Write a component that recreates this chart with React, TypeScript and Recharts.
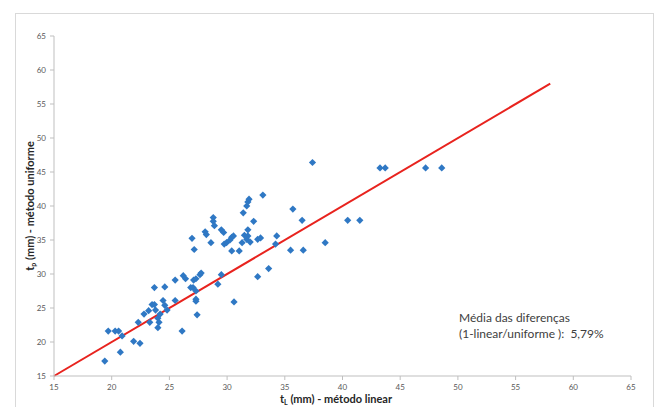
import React from 'react';
import { ScatterChart, Scatter, XAxis, YAxis, ReferenceLine } from 'recharts';

// t_L (método linear) for each measured point
const linearValues = [
  19.4, 19.7, 20.3, 20.6, 20.9, 20.75, 21.9, 22.45, 22.3, 22.8,
  23.3, 23.2, 23.5, 23.7, 23.7, 23.8, 24.0, 24.1, 24.0, 24.2,
  24.45, 24.6, 24.6, 24.8, 25.5, 25.5, 26.1, 26.2, 26.4, 26.85,
  27.05, 27.1, 27.3, 27.65, 27.75, 27.3, 27.3, 27.3, 27.4, 29.5,
  29.2, 30.6, 32.65, 33.6, 26.96, 27.15, 28.6, 28.1, 28.2, 28.8,
  28.8, 28.9, 29.5, 29.7, 29.75, 29.95, 30.25, 30.4, 30.4, 31.05,
  31.3, 31.5, 31.4, 31.7, 31.8, 31.9, 31.7, 31.8, 31.8, 32.0,
  32.3, 32.65, 32.9, 33.1, 34.3, 34.2, 35.5, 35.7, 36.5, 36.6,
  37.4, 38.5, 40.45, 41.5, 43.25, 43.7, 47.2, 48.6, 30.55,
];

// t_p (método uniforme) for the same points
const uniformValues = [
  17.2, 21.6, 21.6, 21.6, 20.9, 18.5, 20.1, 19.8, 22.9, 24.1,
  22.9, 24.6, 25.5, 25.5, 28.0, 24.7, 23.5, 22.9, 22.1, 24.1,
  26.1, 25.4, 28.1, 24.7, 29.1, 26.1, 21.6, 29.75, 29.3, 28.0,
  28.0, 29.1, 29.3, 29.9, 30.15, 27.5, 26.3, 26.0, 24.0, 29.9,
  28.5, 25.9, 29.6, 30.8, 35.25, 33.6, 34.6, 36.2, 35.8, 38.3,
  37.75, 37.1, 36.5, 36.1, 34.4, 34.6, 35.0, 35.4, 33.4, 33.4,
  34.6, 35.7, 39.0, 40.0, 40.6, 41.0, 35.1, 35.6, 36.5, 34.7,
  37.75, 35.1, 35.3, 41.6, 35.6, 34.4, 33.5, 39.55, 37.9, 33.5,
  46.4, 34.6, 37.9, 37.9, 45.6, 45.6, 45.6, 45.6, 35.6,
];

// red line
const lineX = [15, 58];
const lineY = [15, 58];

const axisTicks = [15, 20, 25, 30, 35, 40, 45, 50, 55, 60, 65];

const points = linearValues.map((x, i) => ({ x, y: uniformValues[i] }));

const Diamond = (props: any) => {
  const { cx, cy } = props;
  const r = 3.6;
  return (
    <polygon
      points={`${cx},${cy - r} ${cx + r},${cy} ${cx},${cy + r} ${cx - r},${cy}`}
      fill="#2f78c4"
    />
  );
};

const tickStyle = { fontSize: 8, fill: '#595959', fontFamily: 'Lato, sans-serif' };
const titleStyle: React.CSSProperties = {
  position: 'absolute',
  fontFamily: 'Lato, sans-serif',
  fontWeight: 'bold',
  fontSize: 11,
  lineHeight: '12px',
  color: '#262626',
  whiteSpace: 'nowrap',
};
const subStyle: React.CSSProperties = { fontSize: 7, position: 'relative', top: 2 };

export default function App() {
  return (
    <div style={{ position: 'absolute', left: 0, top: 0, width: 655, height: 407, overflow: 'hidden', background: '#fff' }}>
      <div style={{ position: 'absolute', left: 15, top: 13, width: 637, height: 420, border: '1px solid #d9d9d9' }} />
      <div style={{ position: 'absolute', left: 0, top: 0 }}>
        <ScatterChart width={655} height={407} margin={{ top: 36, right: 24, bottom: 0, left: 0 }}>
          <XAxis
            type="number"
            dataKey="x"
            domain={[15, 65]}
            ticks={axisTicks}
            height={31}
            tickSize={4}
            tickMargin={4}
            tick={tickStyle}
            stroke="#bfbfbf"
            allowDataOverflow
          />
          <YAxis
            type="number"
            dataKey="y"
            domain={[15, 65]}
            ticks={axisTicks}
            width={54}
            tickSize={4}
            tickMargin={4}
            tick={tickStyle}
            stroke="#bfbfbf"
            allowDataOverflow
          />
          <Scatter data={points} shape={Diamond} isAnimationActive={false} />
          <ReferenceLine
            segment={[
              { x: lineX[0], y: lineY[0] },
              { x: lineX[1], y: lineY[1] },
            ]}
            stroke="#e8231e"
            strokeWidth={2}
          />
        </ScatterChart>
      </div>
      <div style={{ ...titleStyle, left: 336, top: 393, transform: 'translateX(-50%)' }}>
        t<span style={subStyle}>L</span> (mm) - método linear
      </div>
      <div
        style={{
          ...titleStyle,
          left: 30,
          top: 206,
          transform: 'translate(-50%, -50%) rotate(-90deg)',
        }}
      >
        t<span style={subStyle}>p</span> (mm) - método uniforme
      </div>
      <div
        style={{
          position: 'absolute',
          left: 459,
          top: 310,
          fontFamily: 'Lato, sans-serif',
          fontSize: 12,
          lineHeight: '16px',
          color: '#404040',
          whiteSpace: 'pre',
        }}
      >
        {'Média das diferenças\n(1-linear/uniforme ):  5,79%'}
      </div>
    </div>
  );
}
